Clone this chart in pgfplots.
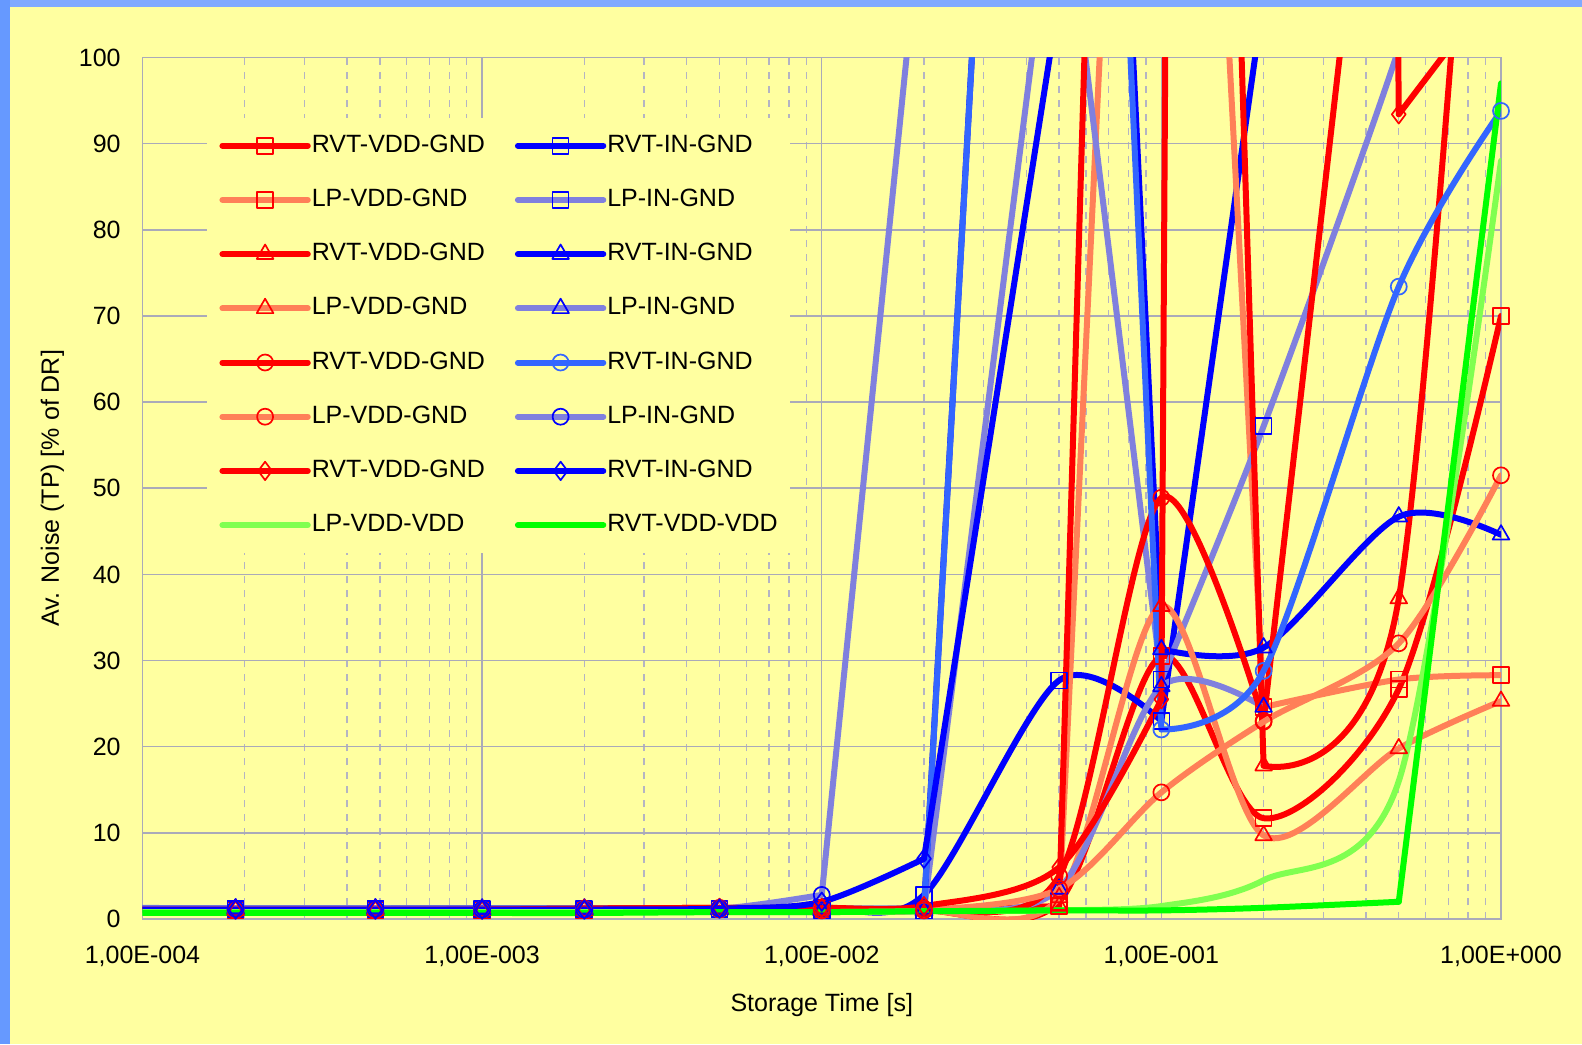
\documentclass[border=0pt]{standalone}
\usepackage{fontspec}
\setmainfont{Liberation Sans}
\usepackage{pgfplots}
\usepackage{pgfplotstable}
\pgfplotsset{compat=1.18}
\usetikzlibrary{backgrounds}
\definecolor{bgyellow}{RGB}{255,255,160}
\definecolor{leftblue}{RGB}{102,153,255}
\definecolor{topblue}{RGB}{128,170,255}
\definecolor{gridgray}{RGB}{170,170,185}
\definecolor{mingray}{RGB}{180,180,195}
\definecolor{cred}{RGB}{255,0,0}
\definecolor{csal}{RGB}{255,128,88}
\definecolor{clav}{RGB}{128,128,222}
\definecolor{cblue}{RGB}{0,0,255}
\definecolor{clblue}{RGB}{51,102,255}
\definecolor{cgreen}{RGB}{0,255,0}
\definecolor{clgreen}{RGB}{128,255,80}

% s = smoothly drawn part of a series, h = the steep part drawn straight
\pgfplotstableread{
x        A1   B1s  B1h  A2s  A2h  B2s  B2h  A3s  A3h  B3s  B3h  A4   B4   A5s  A5h  B5s  B5h  A6   B6s  B6h  A7s  A7h  B7s  B7h  A8   B8s  B8h
1e-4     1.1  1.2  nan  1.0  nan  1.3  nan  1.1  nan  1.2  nan  1.0  1.2  1.1  nan  1.1  nan  1.0  1.2  nan  1.1  nan  1.1  nan  0.8  0.7  nan
1.88e-4  1.1  1.2  nan  1.0  nan  1.2  nan  1.1  nan  1.2  nan  1.0  1.2  1.1  nan  1.1  nan  1.0  1.2  nan  1.1  nan  1.1  nan  0.8  0.7  nan
4.85e-4  1.1  1.2  nan  1.0  nan  1.2  nan  1.1  nan  1.2  nan  1.0  1.2  1.1  nan  1.1  nan  1.0  1.2  nan  1.1  nan  1.1  nan  0.8  0.7  nan
1e-3     1.1  1.2  nan  1.0  nan  1.1  nan  1.1  nan  1.2  nan  1.0  1.1  1.1  nan  1.1  nan  1.0  1.1  nan  1.1  nan  1.1  nan  0.8  0.7  nan
2e-3     1.1  1.2  nan  1.0  nan  1.1  nan  1.1  nan  1.2  nan  1.0  1.1  1.2  nan  1.1  nan  1.0  1.1  nan  1.2  nan  1.1  nan  0.8  0.7  nan
5e-3     1.2  1.2  nan  1.1  nan  1.1  nan  1.2  nan  1.2  nan  1.1  1.1  1.3  nan  1.1  nan  1.1  1.2  nan  1.3  nan  1.2  nan  0.8  0.8  nan
1e-2     1.2  1.3  nan  1.1  nan  1.0  nan  1.2  nan  1.2  nan  1.0  1.0  1.3  nan  1.0  nan  1.0  2.8  2.8  1.3  nan  2.0  nan  0.8  0.8  nan
2e-2     1.0  2.8  nan  1.0  nan  1.0  1.0  1.0  nan  1.2  1.2  1.0  1.0  1.2  nan  1.0  1.0  1.0  nan  120  1.5  nan  7.0  7.0  0.9  0.9  nan
5e-2     2.0  27.7 nan  1.5  1.5  nan  125  1.5  1.5  nan  280  2.5  3.5  5.0  nan  nan  280  3.5  nan  nan  6.0  nan  nan  107  1.0  1.0  nan
1e-1     30.5 23.0 23.0 nan  250  27.8 27.8 nan  400  31.3 31.3 36.3 27.0 48.9 nan  22.0 22.0 14.7 nan  nan  25.5 25.5 nan  nan  1.5  1.0  nan
2e-1     11.7 nan  107  24.6 24.6 57.2 nan  17.8 17.8 31.5 nan  9.7  24.6 23.0 23.0 28.8 nan  22.9 nan  nan  nan  2000 nan  nan  4.5  1.3  nan
5e-1     26.7 nan  300  27.8 nan  101  nan  37.2 nan  46.7 nan  19.8 nan  nan  160  73.4 nan  32.0 nan  nan  nan  93.4 nan  nan  16.0 2.0  2.0
1        70.0 nan  500  28.3 nan  140  nan  180  nan  44.6 nan  25.3 nan  nan  400  93.8 nan  51.5 nan  nan  nan  109  nan  nan  88.0 nan  97.0
}\data

\pgfplotsset{
  mred/.style={mark options={solid, fill=none, line width=0.85pt, draw=cred}},
  mblue/.style={mark options={solid, fill=none, line width=0.85pt, draw=cblue}},
  mlblue/.style={mark options={solid, fill=none, line width=0.85pt, draw=clblue}},
  mredt/.style={mark options={solid, fill=none, line width=0.85pt, draw=cred, mark size=4.8pt}},
  mbluet/.style={mark options={solid, fill=none, line width=0.85pt, draw=cblue, mark size=4.8pt}},
  mredd/.style={mark options={solid, fill=none, line width=0.85pt, draw=cred, mark size=4.6pt}},
  mblued/.style={mark options={solid, fill=none, line width=0.85pt, draw=cblue, mark size=4.6pt}},
  steep/.style={sharp plot, forget plot},
}

\begin{document}
\fontsize{12.5}{15}\selectfont
\begin{tikzpicture}
\begin{axis}[
  at={(0,0)}, anchor=south west,
  width=679.25pt, height=430.75pt, scale only axis,
  xmode=log, xmin=1e-4, xmax=1, ymin=0, ymax=100,
  unbounded coords=jump,
  axis background/.style={fill=bgyellow},
  axis line style={draw=gridgray, line width=0.75pt},
  major tick length=0pt, minor tick length=0pt,
  ytick={0,10,...,100},
  xtick={1e-4,1e-3,1e-2,1e-1,1},
  xticklabels={{1,00E-004},{1,00E-003},{1,00E-002},{1,00E-001},{1,00E+000}},
  minor xtick={2e-4,3e-4,4e-4,5e-4,6e-4,7e-4,8e-4,9e-4,2e-3,3e-3,4e-3,5e-3,6e-3,7e-3,8e-3,9e-3,2e-2,3e-2,4e-2,5e-2,6e-2,7e-2,8e-2,9e-2,2e-1,3e-1,4e-1,5e-1,6e-1,7e-1,8e-1,9e-1},
  xmajorgrids, ymajorgrids, xminorgrids,
  major grid style={draw=gridgray, line width=0.75pt},
  minor grid style={draw=mingray, line width=0.7pt, dash pattern=on 3.5pt off 3.5pt},
  /pgf/number format/assume math mode=true,
  ticklabel style={font=\fontsize{12.5}{15}\selectfont, inner sep=0pt},
  xticklabel style={anchor=center, yshift=-18.75pt},
  yticklabel style={anchor=east, xshift=-10.75pt},
  xlabel={Storage Time [s]},
  ylabel={Av. Noise (TP) [\% of DR]},
  xlabel style={at={(axis description cs:0.5,-0.0998)}, anchor=center, inner sep=0pt},
  ylabel style={at={(axis description cs:-0.0663,0.5)}, anchor=center, rotate=0, inner sep=0pt},
  label style={font=\fontsize{12.5}{15}\selectfont},
  legend columns=2,
  legend cell align=left,
  legend style={at={(0.0475,0.930)}, anchor=north west, fill=bgyellow, draw=none,
    inner xsep=6pt, inner ysep=8pt, row sep=15.6pt,
    font=\fontsize{12.5}{15}\selectfont,
    nodes={inner sep=0pt, text height=9pt, text depth=2.5pt},
    /tikz/column sep=0.5pt,
    /tikz/every even column/.append style={column sep=15pt}},
  legend image code/.code={\draw[mark repeat=2,mark phase=2] plot coordinates {(0cm,0cm) (0.75cm,0cm) (1.5cm,0cm)};},
  every axis plot/.append style={smooth, tension=0.5, line width=3pt, line join=round, line cap=round,
    mark phase=2, mark size=4pt},
]
% row 1
\addplot[cred, mark=square, mred] table[x=x,y=A1]{\data};
\addlegendentry{RVT-VDD-GND}
\addplot[cblue, mark=square, mblue] table[x=x,y=B1s]{\data};
\addlegendentry{RVT-IN-GND}
\addplot[cblue, mark=square, mblue, steep] table[x=x,y=B1h]{\data};
% row 2
\addplot[csal, mark=square, mred] table[x=x,y=A2s]{\data};
\addlegendentry{LP-VDD-GND}
\addplot[csal, mark=square, mred, steep] table[x=x,y=A2h]{\data};
\addplot[clav, mark=square, mblue] table[x=x,y=B2s]{\data};
\addlegendentry{LP-IN-GND}
\addplot[clav, mark=square, mblue, steep] table[x=x,y=B2h]{\data};
% row 3
\addplot[cred, mark=triangle, mredt] table[x=x,y=A3s]{\data};
\addlegendentry{RVT-VDD-GND}
\addplot[cred, mark=triangle, mredt, steep] table[x=x,y=A3h]{\data};
\addplot[cblue, mark=triangle, mbluet] table[x=x,y=B3s]{\data};
\addlegendentry{RVT-IN-GND}
\addplot[cblue, mark=triangle, mbluet, steep] table[x=x,y=B3h]{\data};
% row 4
\addplot[csal, mark=triangle, mredt] table[x=x,y=A4]{\data};
\addlegendentry{LP-VDD-GND}
\addplot[clav, mark=triangle, mbluet] table[x=x,y=B4]{\data};
\addlegendentry{LP-IN-GND}
% row 5
\addplot[cred, mark=o, mred] table[x=x,y=A5s]{\data};
\addlegendentry{RVT-VDD-GND}
\addplot[cred, mark=o, mred, steep] table[x=x,y=A5h]{\data};
\addplot[clblue, mark=o, mlblue] table[x=x,y=B5s]{\data};
\addlegendentry{RVT-IN-GND}
\addplot[clblue, mark=o, mlblue, steep] table[x=x,y=B5h]{\data};
% row 6
\addplot[csal, mark=o, mred] table[x=x,y=A6]{\data};
\addlegendentry{LP-VDD-GND}
\addplot[clav, mark=o, mblue] table[x=x,y=B6s]{\data};
\addlegendentry{LP-IN-GND}
\addplot[clav, mark=o, mblue, steep] table[x=x,y=B6h]{\data};
% row 7
\addplot[cred, mark=diamond, mredd] table[x=x,y=A7s]{\data};
\addlegendentry{RVT-VDD-GND}
\addplot[cred, mark=diamond, mredd, steep] table[x=x,y=A7h]{\data};
\addplot[cblue, mark=diamond, mblued] table[x=x,y=B7s]{\data};
\addlegendentry{RVT-IN-GND}
\addplot[cblue, mark=diamond, mblued, steep] table[x=x,y=B7h]{\data};
% row 8
\addplot[clgreen, no marks] table[x=x,y=A8]{\data};
\addlegendentry{LP-VDD-VDD}
\addplot[cgreen, no marks] table[x=x,y=B8s]{\data};
\addlegendentry{RVT-VDD-VDD}
\addplot[cgreen, no marks, steep] table[x=x,y=B8h]{\data};
\end{axis}
\begin{pgfonlayer}{background}
\fill[leftblue] (-71.25pt,-62.5pt) rectangle (719.75pt,459.5pt);
\fill[bgyellow] (-66.25pt,-62.5pt) rectangle (719.75pt,456pt);
\fill[topblue] (-66.25pt,456pt) rectangle (719.75pt,459.5pt);
\end{pgfonlayer}
\pgfresetboundingbox
\useasboundingbox (-71.25pt,-62.5pt) rectangle (719.75pt,459.5pt);
\end{tikzpicture}
\end{document}
